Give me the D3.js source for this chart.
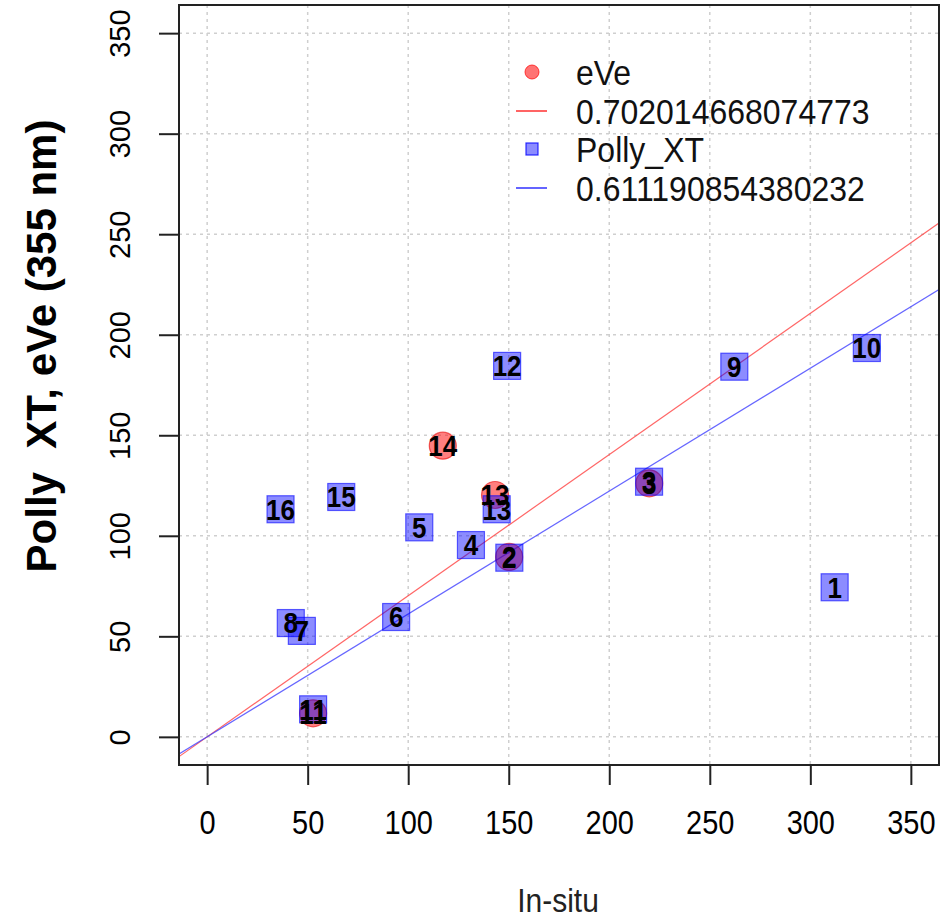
<!DOCTYPE html>
<html>
<head>
<meta charset="utf-8">
<title>Polly XT, eVe vs In-situ</title>
<script src="https://d3js.org/d3.v7.min.js"></script>
<style>
  body { margin: 0; background: #fff; }
  text { font-family: "Liberation Sans", Arial, sans-serif; }
</style>
</head>
<body>
<svg width="947" height="919"></svg>
<script>
// data
var ticks = [0, 50, 100, 150, 200, 250, 300, 350];

var pollyIds = [1, 2, 3, 4, 5, 6, 7, 8, 9, 10, 11, 12, 13, 15, 16];
var pollyInsitu = [312.1, 150.3, 219.8, 131.2, 105.5, 94.0, 47.1, 41.6, 262.2, 328.1, 52.7, 149.2, 144.0, 66.7, 36.5];
var pollyVal = [74.4, 89.1, 126.9, 95.4, 104.2, 59.6, 52.7, 56.6, 184.1, 193.4, 13.7, 184.5, 113.2, 119.3, 113.2];

var eveIds = [2, 3, 11, 13, 14];
var eveInsitu = [150.2, 219.9, 52.7, 143.2, 117.2];
var eveVal = [89.5, 126.1, 11.7, 120.3, 144.8];

var slopeEve = 0.702014668074773;
var slopePolly = 0.611190854380232;
var legendLabels = ["eVe", "0.702014668074773", "Polly_XT", "0.611190854380232"];

var svg = d3.select("svg"),
    pLeft = 179, pRight = 939, pTop = 5, pBottom = 765;

var x = d3.scaleLinear().domain([-14, 364]).range([pLeft, pRight]);
var y = d3.scaleLinear().domain([-14, 364]).range([pBottom, pTop]);

// grid
var grid = svg.append("g").attr("stroke", "#cfcfcf").attr("stroke-width", 1.5).attr("stroke-dasharray", "3,4");
grid.selectAll(".gx").data(ticks).enter().append("line")
    .attr("x1", d => x(d)).attr("x2", d => x(d)).attr("y1", pTop).attr("y2", pBottom);
grid.selectAll(".gy").data(ticks).enter().append("line")
    .attr("y1", d => y(d)).attr("y2", d => y(d)).attr("x1", pLeft).attr("x2", pRight);

// fit lines through origin
svg.append("clipPath").attr("id", "plot").append("rect")
    .attr("x", pLeft).attr("y", pTop).attr("width", pRight - pLeft).attr("height", pBottom - pTop);
var fits = svg.append("g").attr("clip-path", "url(#plot)");
[[slopeEve, "#ff4040"], [slopePolly, "#4040ff"]].forEach(function(s) {
  fits.append("line")
    .attr("x1", x(-14)).attr("y1", y(-14 * s[0]))
    .attr("x2", x(364)).attr("y2", y(364 * s[0]))
    .attr("stroke", s[1]).attr("stroke-opacity", 0.8).attr("stroke-width", 1.2);
});

// points
var eve = eveIds.map((id, i) => ({id: id, x: eveInsitu[i], y: eveVal[i]}));
var polly = pollyIds.map((id, i) => ({id: id, x: pollyInsitu[i], y: pollyVal[i]}));

svg.append("g").selectAll("circle").data(eve).enter().append("circle")
    .attr("cx", d => x(d.x)).attr("cy", d => y(d.y)).attr("r", 13.5)
    .attr("fill", "rgba(255,0,0,0.5)").attr("stroke", "rgba(230,0,0,0.6)").attr("stroke-width", 1.2);

var sq = 27;
svg.append("g").selectAll("rect").data(polly).enter().append("rect")
    .attr("x", d => x(d.x) - sq / 2).attr("y", d => y(d.y) - sq / 2)
    .attr("width", sq).attr("height", sq)
    .attr("fill", "rgba(0,0,255,0.45)").attr("stroke", "rgba(0,0,255,0.6)").attr("stroke-width", 1.2);

var labels = svg.append("g").attr("font-weight", "bold").attr("font-size", 26)
    .attr("text-anchor", "middle").attr("fill", "#000");
labels.selectAll(".le").data(eve).enter().append("text")
    .attr("transform", d => `translate(${x(d.x)},${y(d.y)}) scale(1,1.1)`)
    .attr("dy", "0.36em").text(d => d.id);
labels.selectAll(".lp").data(polly).enter().append("text")
    .attr("transform", d => `translate(${x(d.x)},${y(d.y)}) scale(1,1.1)`)
    .attr("dy", "0.36em").text(d => d.id);

// axes
var xAxis = svg.append("g").attr("transform", `translate(0,${pBottom})`)
    .call(d3.axisBottom(x).tickValues(ticks).tickSize(20).tickSizeOuter(0));
xAxis.select(".domain").remove();
xAxis.selectAll("line").attr("stroke", "#222").attr("stroke-width", 2);
xAxis.selectAll("text").attr("font-size", 29).attr("fill", "#000")
    .attr("y", 0).attr("dy", 0)
    .attr("transform", "translate(0,58) scale(1,1.12)")
    .attr("dominant-baseline", "central");

var yAxis = svg.append("g").attr("transform", `translate(${pLeft},0)`)
    .call(d3.axisLeft(y).tickValues(ticks).tickSize(20).tickSizeOuter(0));
yAxis.select(".domain").remove();
yAxis.selectAll("line").attr("stroke", "#222").attr("stroke-width", 2);
yAxis.selectAll("text").attr("font-size", 29).attr("fill", "#000")
    .attr("x", 0).attr("dy", 0)
    .attr("text-anchor", "middle").attr("dominant-baseline", "central")
    .attr("transform", "translate(-59,0) rotate(-90)");

// box
svg.append("rect").attr("x", pLeft).attr("y", pTop).attr("width", pRight - pLeft).attr("height", pBottom - pTop)
    .attr("fill", "none").attr("stroke", "#222").attr("stroke-width", 2);

// titles
svg.append("text").attr("transform", "translate(558,900) scale(1,1.12)")
    .attr("text-anchor", "middle").attr("dominant-baseline", "central")
    .attr("font-size", 30).attr("fill", "#222").text("In-situ");

svg.append("text").attr("transform", "translate(41,346) rotate(-90)")
    .attr("text-anchor", "middle").attr("dominant-baseline", "central")
    .attr("font-size", 42).attr("font-weight", "bold").attr("fill", "#000")
    .style("white-space", "pre").text("Polly  XT, eVe (355 nm)");

// legend
var legY = [72, 111, 149, 188];
var leg = svg.append("g");
leg.append("circle").attr("cx", 532).attr("cy", legY[0]).attr("r", 7)
    .attr("fill", "rgba(255,0,0,0.55)").attr("stroke", "rgba(255,0,0,0.7)");
leg.append("line").attr("x1", 516).attr("x2", 547).attr("y1", legY[1]).attr("y2", legY[1])
    .attr("stroke", "#ff3030").attr("stroke-width", 1.5);
leg.append("rect").attr("x", 526).attr("y", legY[2] - 6).attr("width", 12).attr("height", 12)
    .attr("fill", "rgba(0,0,255,0.45)").attr("stroke", "rgba(0,0,255,0.8)").attr("stroke-width", 1.2);
leg.append("line").attr("x1", 516).attr("x2", 547).attr("y1", legY[3]).attr("y2", legY[3])
    .attr("stroke", "#3030ff").attr("stroke-width", 1.5);
leg.selectAll("text").data(legendLabels).enter().append("text")
    .attr("transform", (d, i) => `translate(576,${legY[i]}) scale(1,1.12)`)
    .attr("dominant-baseline", "central").attr("font-size", 32).attr("fill", "#111")
    .text(d => d);
</script>
</body>
</html>
